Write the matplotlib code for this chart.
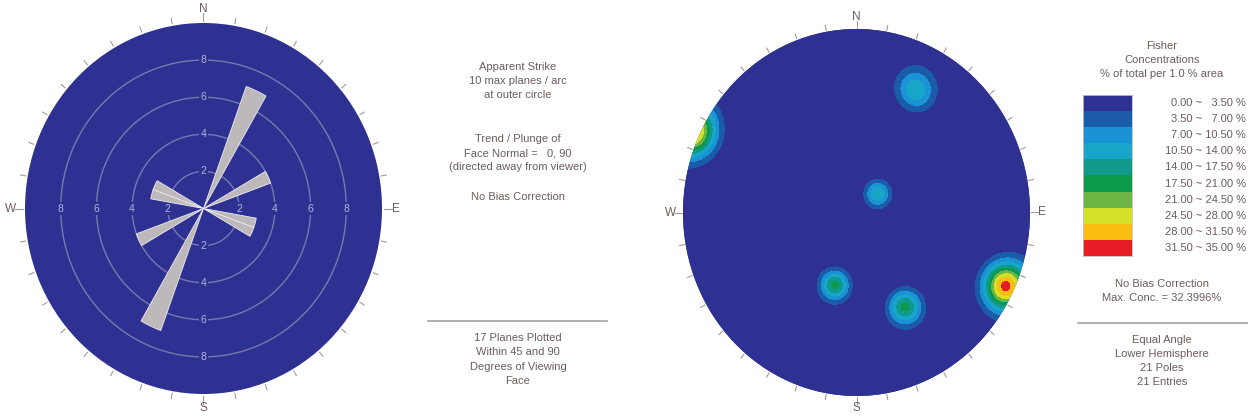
import numpy as np
import matplotlib.pyplot as plt
from matplotlib.colors import ListedColormap
from matplotlib.patches import Circle
from matplotlib.lines import Line2D

plt.rcParams['font.family'] = ['Liberation Sans', 'DejaVu Sans']

# rose diagram (apparent strike), 10 degree bins: bin start and planes per arc
strike_bin_start = [20, 60, 100, 110]
strike_counts = [7, 4, 3, 3]
bin_width = 10
ring_values = [2, 4, 6, 8]
rose_max = 10

# poles for the Fisher concentration plot (trend / plunge, degrees)
pole_trend = [115, 116, 114, 115, 116, 114, 115,
              25, 29, 27,
              48, 53, 50,
              196, 199, 197, 198,
              150, 153, 152, 151]
pole_plunge = [3, 3, 3, 2, 4, 4, 2,
               16, 18, 15,
               73, 72, 71,
               45, 45, 44, 46,
               29, 30, 28, 30]
fisher_k = 115

# contour levels and legend
levels = [0, 3.5, 7, 10.5, 14, 17.5, 21, 24.5, 28, 31.5, 35]
level_colors = ['#2e3192', '#1b5ca8', '#1a92d6', '#18a6c8', '#0f9a8c',
                '#0c9a4a', '#6db545', '#d5e029', '#fbbd12', '#e71d25']

navy = '#2e3192'
txt = '#6b5d5b'
tick_col = '#a39a9a'

W, H = 1248, 418
fig = plt.figure(figsize=(W / 100, H / 100), dpi=100)


def rect(x0, y0, x1, y1):
    return [x0 / W, 1 - y1 / H, (x1 - x0) / W, (y1 - y0) / H]


# ---------- left: rose diagram ----------
ax1 = fig.add_axes(rect(25, 23, 382, 394), projection='polar')
ax1.set_aspect('auto')
ax1.set_theta_zero_location('N')
ax1.set_theta_direction(-1)
ax1.set_ylim(0, rose_max)
ax1.set_facecolor(navy)
ax1.grid(False)
ax1.set_xticks([])
ax1.set_yticks([])
ax1.spines['polar'].set_visible(False)

t = np.linspace(0, 2 * np.pi, 361)
for rv in ring_values:
    ax1.plot(t, np.full_like(t, rv), color='#7878b0', lw=1.0, zorder=2)
    for ang in [0, 90, 180, 270]:
        ax1.text(np.deg2rad(ang), rv, str(rv), ha='center', va='center',
                 color='#b4b4d8', fontsize=7.5, zorder=4,
                 bbox=dict(boxstyle='square,pad=0.12', fc=navy, ec='none'))

starts = np.array(strike_bin_start)
counts = np.array(strike_counts)
theta = np.deg2rad(np.concatenate([starts, starts + 180]) + bin_width / 2)
ax1.bar(theta, np.concatenate([counts, counts]), width=np.deg2rad(bin_width),
        color='#bdb9bb', edgecolor='#ecebf0', linewidth=0.6, zorder=5)

for ang in range(0, 360, 10):
    a = np.deg2rad(ang)
    top = 10.55 if ang % 90 == 0 else 10.4
    ax1.plot([a, a], [10.12, top], color=tick_col, lw=0.8, clip_on=False)
for lab, ang in zip('NESW', [0, 90, 180, 270]):
    ax1.text(np.deg2rad(ang), 10.75 if lab in 'NS' else 10.8, lab,
             ha='center', va='center', color=txt, fontsize=8.5)

# ---------- right: Fisher concentrations, equal angle lower hemisphere ----------
ax2 = fig.add_axes(rect(683, 29, 1030, 396))
ax2.set_xlim(-1, 1)
ax2.set_ylim(-1, 1)
ax2.axis('off')

tr = np.deg2rad(pole_trend)
pl = np.deg2rad(pole_plunge)
P = np.stack([np.cos(pl) * np.sin(tr), np.cos(pl) * np.cos(tr), np.sin(pl)], axis=1)
gx, gy = np.meshgrid(np.linspace(-1.01, 1.01, 501), np.linspace(-1.01, 1.01, 501))
rr = np.hypot(gx, gy)
th = 2 * np.arctan(rr)
az = np.arctan2(gx, gy)
V = np.stack([np.sin(th) * np.sin(az), np.sin(th) * np.cos(az), np.cos(th)], axis=-1)
dens = 100 / len(pole_trend) * np.exp(fisher_k * (np.abs(V @ P.T) - 1)).sum(axis=-1)

disk = Circle((0, 0), 1, transform=ax2.transData, fc=navy, ec='none', zorder=0)
ax2.add_patch(disk)
cs = ax2.contourf(gx, gy, dens, levels=levels, colors=level_colors, zorder=1)
cs.set_clip_path(disk)

for ang in range(0, 360, 10):
    a = np.deg2rad(ang)
    top = 1.045 if ang % 90 == 0 else 1.035
    ax2.plot([1.008 * np.sin(a), top * np.sin(a)], [1.008 * np.cos(a), top * np.cos(a)],
             color=tick_col, lw=0.8, clip_on=False)
for lab, ang in zip('NESW', [0, 90, 180, 270]):
    a = np.deg2rad(ang)
    ax2.text(1.07 * np.sin(a), 1.065 * np.cos(a), lab, ha='center', va='center',
             color=txt, fontsize=8.5)

# legend bar
axl = fig.add_axes(rect(1083, 95, 1132, 256))
axl.imshow(np.arange(len(level_colors))[:, None], cmap=ListedColormap(level_colors),
           aspect='auto', interpolation='nearest')
axl.set_xticks([])
axl.set_yticks([])
for s in axl.spines.values():
    s.set_color('#c8c0c0')
    s.set_linewidth(0.6)
band_h = (256 - 95) / len(level_colors)
for i in range(len(level_colors)):
    lo, hi = levels[i], levels[i + 1]
    hs = f'{hi:.2f}' if hi >= 10 else f'  {hi:.2f}'
    fig.text(1246 / W, 1 - (95 + (i + 0.5) * band_h) / H, f'{lo:.2f} ~ {hs} %',
             ha='right', va='center', color=txt, fontsize=8)

# ---------- text blocks ----------
def block(x, ys, lines):
    for y, s in zip(ys, lines):
        fig.text(x / W, 1 - y / H, s, ha='center', va='center', color=txt, fontsize=8)


block(518, [67, 81, 95], ['Apparent Strike', '10 max planes / arc', 'at outer circle'])
block(518, [139, 153, 167], ['Trend / Plunge of', 'Face Normal =   0, 90',
                             '(directed away from viewer)'])
block(518, [197], ['No Bias Correction'])
block(518, [338, 352, 367, 381], ['17 Planes Plotted', 'Within 45 and 90',
                                  'Degrees of Viewing', 'Face'])
block(1162, [46, 60, 74], ['Fisher', 'Concentrations', '% of total per 1.0 % area'])
block(1162, [284, 298], ['No Bias Correction', 'Max. Conc. = 32.3996%'])
block(1162, [340, 354, 368, 382], ['Equal Angle', 'Lower Hemisphere', '21 Poles', '21 Entries'])

fig.add_artist(Line2D([428 / W, 607 / W], [1 - 321 / H] * 2, transform=fig.transFigure,
                      color='#a8a0a0', lw=1.2))
fig.add_artist(Line2D([1078 / W, 1248 / W], [1 - 323 / H] * 2, transform=fig.transFigure,
                      color='#a8a0a0', lw=1.2))

fig.savefig('out.png', dpi=100)
